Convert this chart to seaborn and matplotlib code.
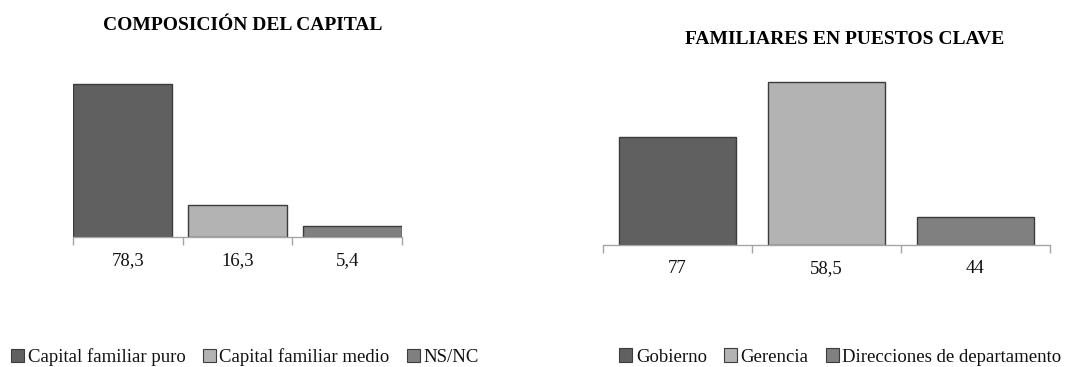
import numpy as np
import pandas as pd
import seaborn as sns
import matplotlib.pyplot as plt
from matplotlib.patches import Patch

# datos del panel izquierdo
capital_series = ["Capital familiar puro", "Capital familiar medio", "NS/NC"]
capital_labels = ["78,3", "16,3", "5,4"]
capital_values = [78.3, 16.3, 5.4]

puestos_series = ["Gobierno", "Gerencia", "Direcciones de departamento"]
puestos_labels = ["77", "58,5", "44"]
puestos_values = [39.8, 60.0, 10.3]

colores = ["#606060", "#b3b3b3", "#808080"]

sns.set_theme(style="white")
plt.rcParams['font.family'] = ['Liberation Serif', 'DejaVu Serif']
plt.rcParams['text.color'] = "#111111"

fig = plt.figure(figsize=(10.73, 3.67), dpi=100)
ax1 = fig.add_axes([73 / 1073, 1 - 236.7 / 367, 329 / 1073, 175.9 / 367])
ax2 = fig.add_axes([603 / 1073, 1 - 245 / 367, 447 / 1073, 179.3 / 367])


def panel(ax, series, labels, values, width, xlim, ymax, title, title_xy):
    df = pd.DataFrame({'etiqueta': labels, 'valor': values, 'serie': series})
    sns.barplot(data=df, x='etiqueta', y='valor', hue='serie', palette=colores,
                dodge=False, width=width, edgecolor="#3c3c3c", linewidth=1,
                legend=False, ax=ax)
    ax.set_xlim(*xlim)
    ax.set_ylim(0, ymax)
    ax.set_xlabel("")
    ax.set_ylabel("")
    ax.set_yticks([])
    for s in ["top", "right", "left"]:
        ax.spines[s].set_visible(False)
    ax.spines["bottom"].set_color("#a6a6a6")
    ax.spines["bottom"].set_linewidth(1)
    bordes = np.linspace(xlim[0], xlim[1], len(labels) + 1)
    centros = (bordes[:-1] + bordes[1:]) / 2
    ax.set_xticks(centros)
    ax.set_xticklabels(labels, fontsize=13.5, color="#111111")
    ax.tick_params(axis='x', which='major', length=0, pad=11)
    ax.set_xticks(bordes, minor=True)
    ax.tick_params(axis='x', which='minor', length=6, color="#a6a6a6",
                   width=1, direction='out', bottom=True)
    fig.text(title_xy[0] / 1073, 1 - title_xy[1] / 367, title,
             ha='center', va='center', fontsize=14, fontweight='bold',
             color="black")
    handles = [Patch(facecolor=c, edgecolor="#3c3c3c", linewidth=0.8) for c in colores]
    return handles


h1 = panel(ax1, capital_series, capital_labels, capital_values, 0.865,
           (-0.432, 2.432), 90, "COMPOSICIÓN DEL CAPITAL", (243, 25))
h2 = panel(ax2, puestos_series, puestos_labels, puestos_values, 0.785,
           (-0.5, 2.5), 66, "FAMILIARES EN PUESTOS CLAVE", (845, 40))

leg_kw = dict(ncol=3, frameon=False, fontsize=13.5, handlelength=0.7,
              handleheight=0.7, handletextpad=0.2, columnspacing=0.9,
              borderpad=0, borderaxespad=0)
fig.legend(h1, capital_series, loc='center left',
           bbox_to_anchor=(11 / 1073, 1 - 357 / 367), **leg_kw)
fig.legend(h2, puestos_series, loc='center left',
           bbox_to_anchor=(619 / 1073, 1 - 357 / 367), **leg_kw)

plt.savefig("out.png", dpi=100)
